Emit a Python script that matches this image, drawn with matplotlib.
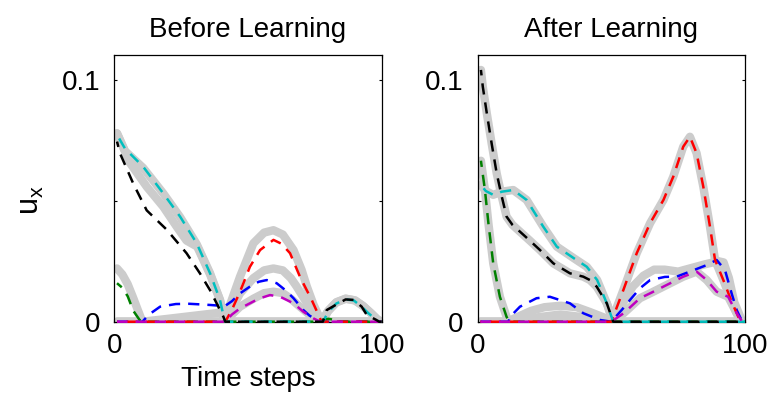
#!/usr/bin/env python3
"""
Before / after learning: u_x over time steps, true (thick gray) vs estimate (dashed)
"""

import matplotlib
matplotlib.use("Agg")
import matplotlib.pyplot as plt

plt.rcParams['font.family'] = ['Liberation Sans', 'DejaVu Sans']

# ---------------- Before learning ----------------
# estimates (dashed)
b_cyan_t = [1, 4, 10.8, 18.3, 24.6, 30.8, 35.8, 39.5, 41.3, 78, 80, 83, 86.5, 89.5, 92.5, 95, 98, 99, 100]
b_cyan_v = [0.0772, 0.0715, 0.064, 0.053, 0.0434, 0.0324, 0.020, 0.009, 0.0, 0.0, 0.004, 0.0075, 0.0092,
            0.0088, 0.0062, 0.0035, 0.0008, 0.0, 0.0]
b_black_t = [1, 2.1, 7.1, 12.1, 19.6, 27, 32, 35.8, 40.8, 41.5, 78, 79.4, 83.2, 86.5, 89.5, 92.5, 94.4, 98, 99, 100]
b_black_v = [0.0744, 0.0696, 0.057, 0.046, 0.038, 0.0283, 0.020, 0.013, 0.002, 0, 0, 0.0048, 0.0072, 0.0092,
             0.009, 0.0062, 0.0028, 0.0007, 0, 0]
b_green_t = [1, 3, 5, 7.1, 9.4, 10.5, 76.5, 78, 80, 82, 83, 100]
b_green_v = [0.0159, 0.0140, 0.0105, 0.0045, 0.0008, 0, 0, 0.0008, 0.0012, 0.0008, 0, 0]
b_blue_t = [1, 10.5, 13, 17.1, 23, 28, 33, 36, 39.5, 41, 44, 47, 50.7, 54, 57, 60.7, 64, 67, 70.7, 73, 75.7, 77, 100]
b_blue_v = [0, 0, 0.003, 0.0062, 0.0073, 0.0074, 0.0071, 0.0069, 0.0066, 0.0062, 0.0085, 0.0117, 0.0145,
            0.0165, 0.0172, 0.0159, 0.013, 0.0097, 0.0048, 0.0025, 0.0007, 0, 0]
b_red_t = [1, 41.5, 44, 47, 50.7, 54.5, 59.5, 62.5, 65.7, 69.4, 73.8, 77.5, 100]
b_red_v = [0, 0, 0.005, 0.0124, 0.0227, 0.0296, 0.0338, 0.0322, 0.0283, 0.0186, 0.009, 0, 0]
b_mag_t = [1, 41.5, 44, 47, 50.7, 54, 58.2, 62, 67, 70.7, 74.4, 77, 100]
b_mag_v = [0, 0, 0.003, 0.0055, 0.0076, 0.0095, 0.011, 0.0103, 0.0076, 0.0041, 0.0014, 0, 0]

# true values (gray)
b_cyan_true_t = [1, 4, 10.8, 18.3, 24.6, 30.8, 35.8, 39.5, 41.3, 77.5, 80, 83, 86.5, 90, 93, 96, 98.5, 100]
b_cyan_true_v = [0.0778, 0.0705, 0.0635, 0.053, 0.0432, 0.032, 0.020, 0.009, 0, 0, 0.0045, 0.0080, 0.0095,
                 0.0088, 0.0065, 0.0035, 0.0008, 0]
b_black_true_t = [1, 5.9, 12.1, 18.3, 23.3, 27, 31, 35.8, 39.5, 41.3, 77.5, 80, 83, 86.5, 90, 93, 96, 98.5, 100]
b_black_true_v = [0.0778, 0.0655, 0.0558, 0.0475, 0.0393, 0.0335, 0.031, 0.0195, 0.009, 0, 0, 0.0045, 0.0080,
                  0.0095, 0.0088, 0.0065, 0.0035, 0.0008, 0]
b_green_true_t = [1, 3, 5, 7, 9, 10.5, 100]
b_green_true_v = [0.0220, 0.0195, 0.0155, 0.0100, 0.0042, 0, 0]
b_blue_true_t = [1, 10.5, 20, 30, 40, 41.3, 44, 47, 52, 56, 59.5, 63, 66, 68.2, 71, 74, 77, 100]
b_blue_true_v = [0, 0, 0.0012, 0.0025, 0.0038, 0.0008, 0.0055, 0.0117, 0.0180, 0.0212, 0.0220, 0.0212,
                 0.0180, 0.0145, 0.0095, 0.0045, 0, 0]
b_red_true_t = [1, 41, 44, 47, 52, 56, 59.5, 63, 67, 70, 72, 74.5, 77.5, 100]
b_red_true_v = [0, 0, 0.0093, 0.0186, 0.0324, 0.0368, 0.0378, 0.0360, 0.0296, 0.0215, 0.0145, 0.0070, 0, 0]
b_mag_true_t = [1, 41.3, 44, 47, 52, 56, 59.5, 63, 66, 69.4, 72, 74.5, 77, 100]
b_mag_true_v = [0, 0, 0.003, 0.0062, 0.0095, 0.0118, 0.0124, 0.0118, 0.0095, 0.0062, 0.0038, 0.0015, 0, 0]

# ---------------- After learning ----------------
a_black_t = [1.2, 1.9, 3.4, 5.2, 7.1, 9, 10.8, 13, 15.8, 19.5, 23.3, 28.3, 34.5, 39.5, 42, 44.5, 48.3, 50.7, 100]
a_black_v = [0.104, 0.0971, 0.0861, 0.0737, 0.0613, 0.0517, 0.0434, 0.040, 0.0372, 0.0335, 0.0296, 0.0241,
             0.020, 0.0186, 0.0172, 0.0145, 0.0076, 0, 0]
a_cyan_t = [1.2, 3, 5.8, 9, 13.3, 18.3, 24.5, 29.6, 36, 40.8, 44.7, 48.3, 50.7, 100]
a_cyan_v = [0.0565, 0.0540, 0.0524, 0.0537, 0.0544, 0.0503, 0.0393, 0.031, 0.0262, 0.0227, 0.0172, 0.0076, 0, 0]
a_green_t = [1.2, 2.7, 4, 5.8, 8.3, 10.8, 11.8, 100]
a_green_v = [0.0665, 0.0544, 0.0407, 0.0241, 0.0103, 0.002, 0, 0]
a_blue_t = [1, 11.5, 12.1, 15.8, 22, 27, 34.5, 39.5, 45.8, 50, 54, 57, 60.7, 64.5, 70, 74.4, 79.4, 85.7, 89.4,
            92.5, 95, 96.9, 99, 100]
a_blue_v = [0, 0, 0.002, 0.0062, 0.0097, 0.0103, 0.0076, 0.0035, 0.0007, 0, 0.005, 0.009, 0.0138, 0.0172,
            0.0185, 0.0186, 0.0207, 0.0234, 0.0255, 0.0214, 0.0117, 0.0048, 0, 0]
a_red_t = [1, 50, 54.5, 59.5, 64.5, 69.5, 73.2, 76.9, 79.4, 81.9, 84.4, 86.9, 88.8, 91.9, 95, 97.5, 99, 100]
a_red_v = [0, 0, 0.0131, 0.0283, 0.0407, 0.0503, 0.060, 0.0723, 0.0764, 0.0696, 0.0558, 0.0393, 0.0255,
           0.0172, 0.0083, 0.002, 0, 0]
a_mag_t = [1, 50, 54.6, 60.7, 65, 69.5, 76.9, 81.9, 85.7, 89.4, 93.7, 96.9, 99, 100]
a_mag_v = [0, 0, 0.0035, 0.0097, 0.012, 0.0145, 0.0186, 0.0207, 0.0172, 0.0124, 0.0103, 0.0035, 0, 0]

a_blue_true_t = [1, 11, 15, 20, 25, 31, 37, 42, 48.5, 50, 54, 58, 62, 66, 70, 75, 80, 85, 90, 92, 94, 96, 99, 100]
a_blue_true_v = [0, 0, 0.002, 0.0045, 0.0060, 0.0066, 0.0060, 0.0040, 0.0012, 0, 0.007, 0.0145, 0.019, 0.0215,
                 0.0215, 0.0207, 0.0222, 0.0237, 0.025, 0.0245, 0.018, 0.008, 0, 0]
a_mag_true_t = [1, 12, 20, 31, 40, 49, 50, 54.6, 60.7, 65, 69.5, 76.9, 81.9, 85.7, 89.4, 93.7, 96.9, 99, 100]
a_mag_true_v = [0, 0, 0.0015, 0.0030, 0.0018, 0, 0, 0.0035, 0.0097, 0.012, 0.0145, 0.0186, 0.0207, 0.0172,
                0.0124, 0.0103, 0.0035, 0, 0]

GRAY = '#cccccc'
COLORS = {'blue': '#0000ff', 'green': '#008000', 'red': '#ff0000',
          'cyan': '#00bfbf', 'mag': '#bf00bf', 'black': '#000000'}

before_true = [(b_blue_true_t, b_blue_true_v), (b_green_true_t, b_green_true_v), (b_red_true_t, b_red_true_v),
               (b_cyan_true_t, b_cyan_true_v), (b_mag_true_t, b_mag_true_v), (b_black_true_t, b_black_true_v)]
before_est = [('blue', b_blue_t, b_blue_v), ('green', b_green_t, b_green_v), ('red', b_red_t, b_red_v),
              ('cyan', b_cyan_t, b_cyan_v), ('mag', b_mag_t, b_mag_v), ('black', b_black_t, b_black_v)]
after_true = [(a_blue_true_t, a_blue_true_v), (a_green_t, a_green_v), (a_red_t, a_red_v),
              (a_cyan_t, a_cyan_v), (a_mag_true_t, a_mag_true_v), (a_black_t, a_black_v)]
after_est = [('blue', a_blue_t, a_blue_v), ('green', a_green_t, a_green_v), ('red', a_red_t, a_red_v),
             ('cyan', a_cyan_t, a_cyan_v), ('mag', a_mag_t, a_mag_v), ('black', a_black_t, a_black_v)]

fig = plt.figure(figsize=(7.72, 3.94), dpi=100)
ax1 = fig.add_axes([0.1481, 0.1835, 0.3464, 0.6777])
ax2 = fig.add_axes([0.6188, 0.1835, 0.3462, 0.6777])

for ax, trues, ests, title in [(ax1, before_true, before_est, 'Before Learning'),
                               (ax2, after_true, after_est, 'After Learning')]:
    for t, v in trues:
        ax.plot(t, v, color=GRAY, lw=6.0, solid_capstyle='round', solid_joinstyle='round', zorder=2)
    for i, (name, t, v) in enumerate(ests):
        ax.plot(t, v, color=COLORS[name], lw=1.8, ls=(i * 2.0, (4.5, 3.2)), zorder=4, clip_on=False)
    ax.set_xlim(0, 100)
    ax.set_ylim(0, 0.1103)
    ax.set_xticks([0, 100])
    ax.set_xticklabels(['0', '100'])
    ax.set_yticks([0, 0.05, 0.1])
    ax.set_yticklabels(['0', '', '0.1'])
    ax.tick_params(direction='in', length=2.5, width=0.8, top=True, right=True, labelsize=20)
    ax.tick_params(axis='x', pad=8)
    ax.tick_params(axis='y', pad=10)
    for s in ax.spines.values():
        s.set_linewidth(0.9)
        s.set_zorder(3)
    ax.set_title(title, fontsize=20, pad=13)

ax1.set_xlabel('Time steps', fontsize=20, labelpad=5)
ax1.set_ylabel(r'$\mathregular{u_x}$', fontsize=22)
ax1.yaxis.set_label_coords(-0.255, 0.455)

plt.savefig('out.png', dpi=100, facecolor='white')
plt.close()
